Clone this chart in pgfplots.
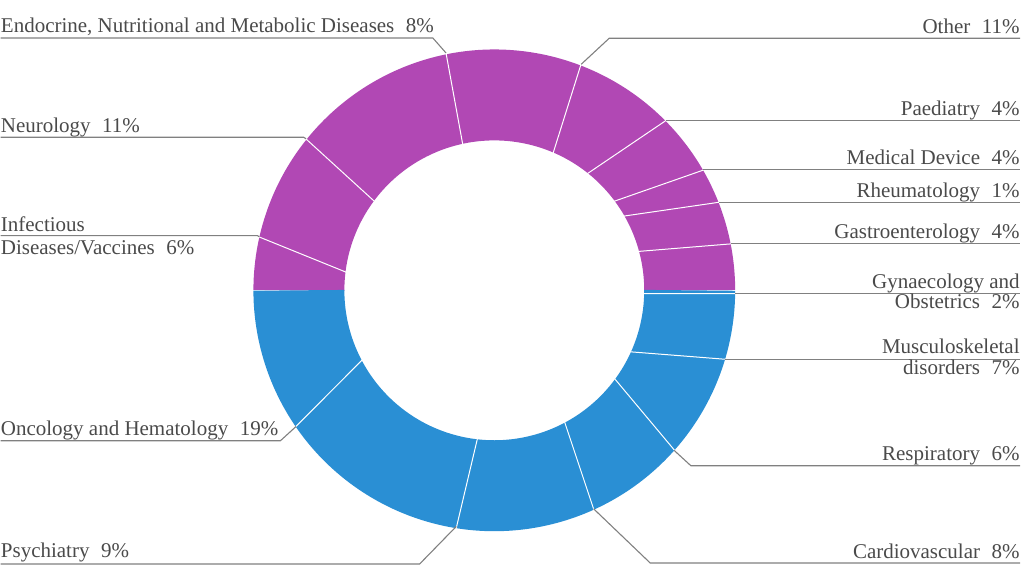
\documentclass[border=0pt]{standalone}
\usepackage{fontspec}
\setmainfont{Liberation Serif}
\usepackage{pgfplots}
\pgfplotsset{compat=1.18}

\definecolor{purp}{HTML}{B148B4}
\definecolor{blu}{HTML}{2A8FD4}
\definecolor{txt}{HTML}{4A4A4A}
\definecolor{lead}{HTML}{808080}

\newcommand{\gap}{\hspace{0.55em}}

\begin{document}
\begin{tikzpicture}[
    lbl/.style={font=\fontsize{10.5}{12}\selectfont, text=txt, inner sep=0pt},
    leader/.style={draw=lead, line width=0.55pt},
    sep/.style={draw=white, line width=0.5pt},
]
\begin{axis}[
    hide axis, scale only axis,
    width=512pt, height=288pt,
    % centre of the donut at (0,0), 1 unit = 1 px of the reference
    xmin=-494, xmax=530, ymin=-285.5, ymax=290.5,
    clip=false,
]
% ring: top half purple, bottom half blue (radius 150..241)
\addplot[draw=purp, line width=45.5pt, domain=0:180, samples=181, variable=\t]
    ({195.5*cos(\t)},{195.5*sin(\t)});
\addplot[draw=blu, line width=45.5pt, domain=180:360, samples=181, variable=\t]
    ({195.5*cos(\t)},{195.5*sin(\t)});

% white separators (outer angle, inner angle)
\addplot[sep, data cs=polar] coordinates {(-0.76,241.5) (-1.3,149.5)};
\addplot[sep, data cs=polar] coordinates {(11.1,241.5) (15.1,149.5)};
\addplot[sep, data cs=polar] coordinates {(21.4,241.5) (29.8,149.5)};
\addplot[sep, data cs=polar] coordinates {(29.9,241.5) (36.6,149.5)};
\addplot[sep, data cs=polar] coordinates {(44.7,241.5) (51.4,149.5)};
\addplot[sep, data cs=polar] coordinates {(69.0,241.5) (66.8,149.5)};
\addplot[sep, data cs=polar] coordinates {(101.5,241.5) (102.2,149.5)};
\addplot[sep, data cs=polar] coordinates {(141.2,241.5) (143.4,149.5)};
\addplot[sep, data cs=polar] coordinates {(167.2,241.5) (173.0,149.5)};
\addplot[sep, data cs=polar] coordinates {(214.5,241.5) (207.8,149.5)};
\addplot[sep, data cs=polar] coordinates {(260.9,241.5) (263.5,149.5)};
\addplot[sep, data cs=polar] coordinates {(294.4,241.5) (298.1,149.5)};
\addplot[sep, data cs=polar] coordinates {(318.4,241.5) (323.7,149.5)};
\addplot[sep, data cs=polar] coordinates {(343.4,241.5) (335.7,149.5)};

% leader lines, right side
\addplot[leader] coordinates {(87,226.2) (115,252.2) (526,252.2)};
\addplot[leader] coordinates {(171.7,169.8) (526,169.8)};
\addplot[leader] coordinates {(209.3,120.5) (526,120.5)};
\addplot[leader] coordinates {(225,88.2) (526,88.2)};
\addplot[leader] coordinates {(237,46.5) (526,46.5)};
\addplot[leader] coordinates {(241,-2.8) (526,-2.8)};
\addplot[leader] coordinates {(231,-68.8) (526,-68.8)};
\addplot[leader] coordinates {(180,-160.2) (196.7,-175.5) (526,-175.5)};
\addplot[leader] coordinates {(99.3,-218.5) (156,-272.8) (526,-272.8)};
% leader lines, left side
\addplot[leader] coordinates {(-494,252.5) (-61.5,252.5) (-48.3,237.5)};
\addplot[leader] coordinates {(-494,153.2) (-190.7,153.2) (-188.3,151.5)};
\addplot[leader] coordinates {(-494,54.8) (-237,54.8) (-235,53.5)};
\addplot[leader] coordinates {(-494,-150.5) (-214,-150.5) (-198.3,-136.2)};
\addplot[leader] coordinates {(-494,-273.8) (-74.7,-273.8) (-38,-236.2)};

% labels, right side
\node[lbl, anchor=base east] at (axis cs:526,257.2) {Other\gap 11\%};
\node[lbl, anchor=base east] at (axis cs:526,174.5) {Paediatry\gap 4\%};
\node[lbl, anchor=base east] at (axis cs:526,125.5) {Medical Device\gap 4\%};
\node[lbl, anchor=base east] at (axis cs:526,93.2) {Rheumatology\gap 1\%};
\node[lbl, anchor=base east] at (axis cs:526,51.5) {Gastroenterology\gap 4\%};
\node[lbl, anchor=base east] at (axis cs:526,2.2) {Gynaecology and};
\node[lbl, anchor=base east] at (axis cs:526,-17.8) {Obstetrics\gap 2\%};
\node[lbl, anchor=base east] at (axis cs:526,-63.5) {Musculoskeletal};
\node[lbl, anchor=base east] at (axis cs:526,-84.5) {disorders\gap 7\%};
\node[lbl, anchor=base east] at (axis cs:526,-170.2) {Respiratory\gap 6\%};
\node[lbl, anchor=base east] at (axis cs:526,-268.8) {Cardiovascular\gap 8\%};
% labels, left side
\node[lbl, anchor=base west] at (axis cs:-494,257.5) {Endocrine, Nutritional and Metabolic Diseases\gap 8\%};
\node[lbl, anchor=base west] at (axis cs:-494,158.2) {Neurology\gap 11\%};
\node[lbl, anchor=base west] at (axis cs:-494,58.8) {Infectious};
\node[lbl, anchor=base west] at (axis cs:-494,35.5) {Diseases/Vaccines\gap 6\%};
\node[lbl, anchor=base west] at (axis cs:-494,-145.5) {Oncology and Hematology\gap 19\%};
\node[lbl, anchor=base west] at (axis cs:-494,-267.8) {Psychiatry\gap 9\%};
\end{axis}
\path (current axis.south west) rectangle (current axis.north east);
\end{tikzpicture}
\end{document}
